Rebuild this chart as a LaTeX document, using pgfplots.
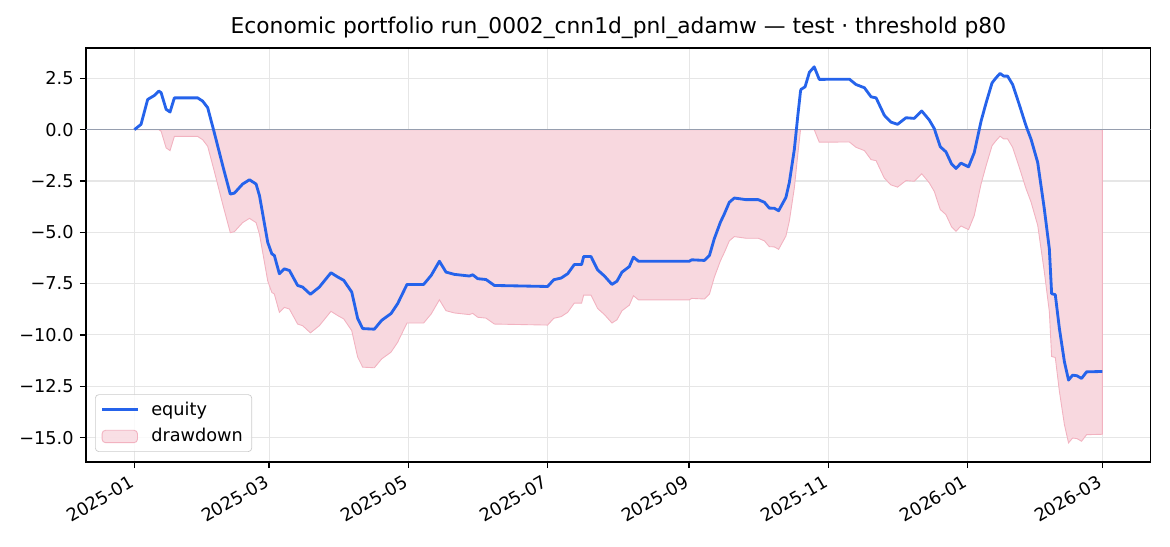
\documentclass[border=0pt]{standalone}
\usepackage{fontspec}
\setmainfont{DejaVu Sans}
\usepackage{pgfplots}
\usepackage{pgfplotstable}
\pgfplotsset{compat=1.18}
\definecolor{eqblue}{HTML}{2563EB}
\definecolor{ddfill}{RGB}{248,216,223}
\definecolor{ddedge}{RGB}{242,178,192}
\definecolor{zeroline}{RGB}{150,158,175}
\definecolor{gridc}{RGB}{230,230,230}
\definecolor{legedge}{RGB}{204,204,204}
\pgfplotsset{
  eqleg/.style={legend image code/.code={\draw[##1] (0pt,0pt) -- (20pt,0pt); \path (25pt,0pt);}},
  ddleg/.style={legend image code/.code={\draw[##1] (0pt,-3.5pt) rectangle (20pt,3.5pt); \path (25pt,0pt);}},
}

\pgfplotstableread{
d eq dd
0 0.00 0
2.9 0.26 0
5.8 1.47 0
8.8 1.67 0
10.7 1.88 0
11.7 1.80 -0.08
13.9 0.99 -0.89
15.6 0.86 -1.02
17.5 1.55 -0.33
27.7 1.55 -0.33
29.9 1.39 -0.49
32.1 1.07 -0.81
35.0 -0.15 -2.03
38.7 -1.76 -3.64
42.0 -3.14 -5.02
43.8 -3.09 -4.97
47.4 -2.65 -4.53
50.4 -2.44 -4.32
53.3 -2.65 -4.53
54.8 -3.22 -5.10
58.4 -5.49 -7.37
60.2 -6.05 -7.93
61.3 -6.13 -8.01
63.5 -7.02 -8.90
65.7 -6.78 -8.66
67.9 -6.86 -8.74
71.5 -7.59 -9.47
73.7 -7.67 -9.55
77.1 -8.02 -9.90
81.0 -7.67 -9.55
86.1 -6.97 -8.85
89.1 -7.18 -9.06
91.7 -7.34 -9.22
95.2 -7.91 -9.79
97.8 -9.20 -11.08
100.0 -9.69 -11.57
105.1 -9.72 -11.60
108.3 -9.29 -11.17
112.4 -8.96 -10.84
115.3 -8.48 -10.36
119.4 -7.54 -9.42
126.7 -7.54 -9.42
130.0 -7.10 -8.98
133.6 -6.41 -8.29
136.5 -6.94 -8.82
140.2 -7.05 -8.93
146.7 -7.13 -9.01
148.2 -7.07 -8.95
150.4 -7.26 -9.14
154.0 -7.30 -9.18
157.7 -7.59 -9.47
181.0 -7.64 -9.52
183.7 -7.31 -9.19
186.9 -7.23 -9.11
189.8 -7.02 -8.90
192.7 -6.57 -8.45
195.9 -6.57 -8.45
196.8 -6.18 -8.06
200.0 -6.18 -8.06
202.9 -6.83 -8.71
205.9 -7.13 -9.01
209.2 -7.54 -9.42
211.4 -7.38 -9.26
213.6 -6.94 -8.82
216.8 -6.67 -8.55
218.6 -6.21 -8.09
220.8 -6.41 -8.29
243.1 -6.41 -8.29
244.1 -6.34 -8.22
249.7 -6.37 -8.25
251.9 -6.13 -8.01
254.0 -5.32 -7.20
256.7 -4.51 -6.39
258.4 -4.11 -5.99
260.6 -3.54 -5.42
262.8 -3.33 -5.21
267.9 -3.41 -5.29
273.3 -3.41 -5.29
276.0 -3.54 -5.42
278.1 -3.82 -5.70
280.3 -3.83 -5.71
282.2 -3.95 -5.83
285.4 -3.30 -5.18
286.9 -2.57 -4.45
289.1 -0.95 -2.83
290.6 0.67 -1.21
291.8 1.88 0
292.0 1.96 0
293.8 2.09 0
295.7 2.80 0
297.8 3.06 0
300.0 2.45 -0.61
313.2 2.46 -0.60
316.1 2.20 -0.86
319.8 2.04 -1.02
322.7 1.60 -1.46
324.9 1.55 -1.51
328.5 0.70 -2.36
331.4 0.37 -2.69
334.3 0.26 -2.80
338.0 0.58 -2.48
341.6 0.55 -2.51
344.9 0.91 -2.15
348.2 0.47 -2.59
350.4 0.05 -3.01
353.0 -0.83 -3.89
355.5 -1.08 -4.14
358.0 -1.68 -4.74
359.9 -1.89 -4.95
362.1 -1.63 -4.69
365.4 -1.81 -4.87
367.9 -1.12 -4.18
370.9 0.42 -2.64
373.1 1.31 -1.75
375.7 2.28 -0.78
377.4 2.52 -0.54
379.2 2.74 -0.32
380.8 2.61 -0.45
382.5 2.61 -0.45
384.7 2.20 -0.86
387.6 1.23 -1.83
390.6 0.18 -2.88
392.8 -0.47 -3.53
395.7 -1.60 -4.66
398.6 -3.87 -6.93
400.8 -5.81 -8.87
401.8 -7.99 -11.05
403.4 -8.04 -11.10
405.2 -9.69 -12.75
407.4 -11.31 -14.37
409.2 -12.20 -15.26
411.0 -11.96 -15.02
412.9 -11.99 -15.05
414.9 -12.12 -15.18
417.1 -11.80 -14.86
424.0 -11.78 -14.84
}\data

\begin{document}
\begin{tikzpicture}
\useasboundingbox (-48.6pt,-47.5pt) rectangle (612.4pt,261pt);
\begin{axis}[
  at={(0,0)}, anchor=south west,
  scale only axis, width=601.5pt, height=233.9pt,
  xmin=-21.2, xmax=445.2, ymin=-16.19, ymax=3.98,
  axis line style={line width=0.8pt, black},
  tick align=outside, major tick length=3.5pt,
  tick style={line width=0.8pt, black},
  xtick pos=bottom, ytick pos=left,
  xtick={0,59,120,181,243,304,365,424},
  xticklabels={2025-01,2025-03,2025-05,2025-07,2025-09,2025-11,2026-01,2026-03},
  ytick={-15,-12.5,-10,-7.5,-5,-2.5,0,2.5},
  yticklabels={−15.0,−12.5,−10.0,−7.5,−5.0,−2.5,0.0,2.5},
  xticklabel style={rotate=30, anchor=north east, yshift=2pt, xshift=-1pt, font=\fontsize{10}{12}\selectfont},
  yticklabel style={font=\fontsize{10}{12}\selectfont},
  xmajorgrids, ymajorgrids,
  grid style={gridc, line width=0.6pt},
  title={Economic portfolio run\_0002\_cnn1d\_pnl\_adamw — test · threshold p80},
  title style={font=\fontsize{12.3}{14.8}\selectfont, yshift=-4.5pt},
  legend style={at={(0.00845,0.0242)}, anchor=south west, draw=legedge,
    rounded corners=2pt, fill=white, fill opacity=0.8, text opacity=1,
    font=\fontsize{10}{12}\selectfont, row sep=2pt},
  legend cell align=left,
]
\addplot[fill=ddfill, draw=ddedge, line width=0.5pt, forget plot] table[x=d, y=dd] {\data} \closedcycle;
\addplot[zeroline, line width=0.8pt, forget plot] coordinates {(-21.2,0) (445.2,0)};
\addplot[eqblue, line width=1.6pt, line join=round, eqleg] table[x=d, y=eq] {\data};
\addlegendentry{equity}
\addlegendimage{fill=ddfill, draw=ddedge, line width=0.5pt, ddleg}
\addlegendentry{drawdown}
\end{axis}
\end{tikzpicture}
\end{document}
